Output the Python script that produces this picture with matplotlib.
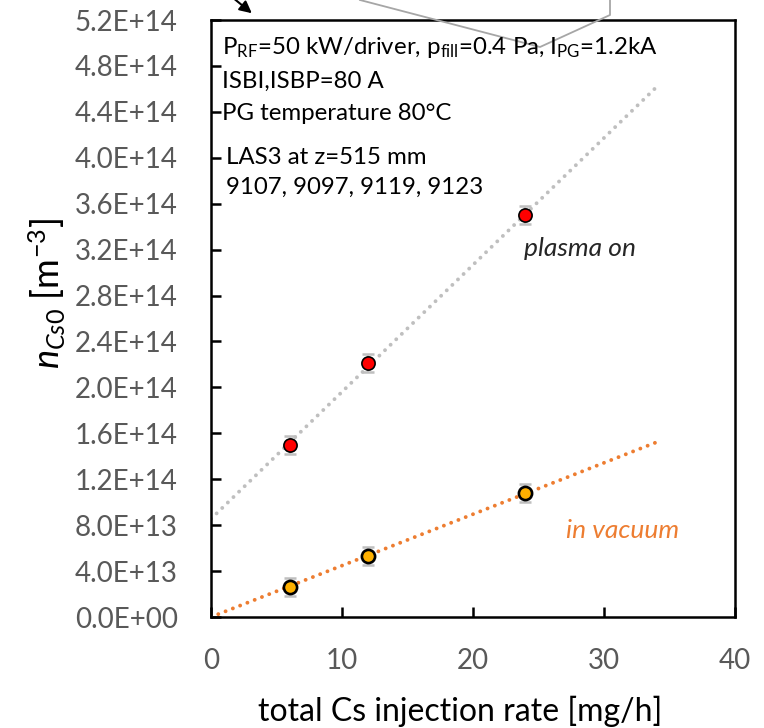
import numpy as np
import matplotlib
matplotlib.use("Agg")
import matplotlib.pyplot as plt
from matplotlib.lines import Line2D
from matplotlib.patches import FancyArrowPatch

# ---- data ----
rate = [6, 12, 24]                       # total Cs injection rate [mg/h]
n_plasma = [1.50e14, 2.21e14, 3.50e14]   # plasma on
n_vacuum = [2.6e13, 5.3e13, 1.08e14]     # in vacuum
err_plasma = [8e12, 8e12, 8e12]
err_vacuum = [8e12, 8e12, 8e12]
x_ticks = [0, 10, 20, 30, 40]
y_ticks = [0, 4e13, 8e13, 1.2e14, 1.6e14, 2.0e14, 2.4e14, 2.8e14, 3.2e14,
           3.6e14, 4.0e14, 4.4e14, 4.8e14, 5.2e14]
trend_end = 34

FONT = "Lato"
plt.rcParams['font.family'] = [FONT, 'DejaVu Sans']
plt.rcParams['mathtext.fontset'] = 'custom'
plt.rcParams['mathtext.rm'] = FONT
plt.rcParams['mathtext.it'] = FONT + ':italic'

W, H = 764, 728
fig = plt.figure(figsize=(W / 100, H / 100), dpi=100)
ax = fig.add_axes([211 / W, 1 - 617 / H, (735 - 211) / W, (617 - 20) / H])

# trend lines (round dots)
dots = (0, (0.01, 2.0))
xs = np.array([0, trend_end])
p = np.polyfit(rate, n_plasma, 1)
ax.plot(xs, np.polyval(p, xs), ls=dots, lw=2.8, color='#BFBFBF',
        dash_capstyle='round', zorder=2)
r = np.array(rate, float)
slope_v = np.sum(r * np.array(n_vacuum)) / np.sum(r * r)
ax.plot(xs, slope_v * xs, ls=dots, lw=2.8, color='#ED7D31',
        dash_capstyle='round', zorder=2)

# error bars + markers
ax.errorbar(rate, n_plasma, yerr=err_plasma, fmt='none', ecolor='#BFBFBF',
            elinewidth=1.5, capsize=4, capthick=1.8, zorder=3)
ax.errorbar(rate, n_vacuum, yerr=err_vacuum, fmt='none', ecolor='#BFBFBF',
            elinewidth=1.5, capsize=4, capthick=1.8, zorder=3)
ax.plot(rate, n_plasma, 'o', ms=9.5, mfc='#FF0000', mec='black', mew=1.2, zorder=4)
ax.plot(rate, n_vacuum, 'o', ms=9.5, mfc='#FFB000', mec='black', mew=1.9, zorder=4)

ax.set_xlim(0, 40)
ax.set_ylim(0, 5.2e14)
ax.set_xticks(x_ticks)
ax.set_yticks(y_ticks)
ax.set_xticklabels([str(t) for t in x_ticks])
ax.set_yticklabels(['%.1E' % v for v in y_ticks])
ax.tick_params(axis='both', direction='in', length=7, width=1.8,
               labelsize=20, labelcolor='#595959', color='black')
ax.tick_params(axis='y', pad=24)
ax.tick_params(axis='x', pad=22)
for s in ax.spines.values():
    s.set_linewidth(1.8)
    s.set_color('black')

fig.text(460 / W, 1 - 711 / H, 'total Cs injection rate [mg/h]',
         ha='center', va='center', fontsize=23)
fig.text(47 / W, 1 - 293 / H, r'$n_{\mathit{Cs0}}$ [m$^{\mathregular{-3}}$]',
         rotation=90, ha='center', va='center', fontsize=26)

# annotation text
fs = 17.3
def ftext(x, y, s, **kw):
    fig.text(x / W, 1 - y / H, s, va='center', ha='left', fontsize=fs, **kw)

ftext(222, 48, r'P$_\mathregular{RF}$=50 kW/driver, p$_\mathregular{fill}$=0.4 Pa, I$_\mathregular{PG}$=1.2kA')
ftext(222, 81, 'ISBI,ISBP=80 A')
ftext(222, 113, 'PG temperature 80°C')
ftext(226, 157, 'LAS3 at z=515 mm')
ftext(226, 187, '9107, 9097, 9119, 9123')

fig.text(580 / W, 1 - 249 / H, 'plasma on', fontsize=19, style='italic',
         color='#262626', ha='center', va='center')
fig.text(623 / W, 1 - 530 / H, 'in vacuum', fontsize=19, style='italic',
         color='#ED7D31', ha='center', va='center')

# cropped decorations at the top
fig.add_artist(Line2D([360 / W, 540 / W, 610 / W, 610 / W],
                      [1, 1 - 47 / H, 1 - 15 / H, 1],
                      transform=fig.transFigure, color='#A6A6A6', lw=1.3))
fig.add_artist(FancyArrowPatch((232 / W, 1 + 3 / H), (254 / W, 1 - 15 / H),
                               transform=fig.transFigure, arrowstyle='-|>',
                               mutation_scale=18, color='black', lw=1.5))

fig.savefig('out.png', dpi=100)
